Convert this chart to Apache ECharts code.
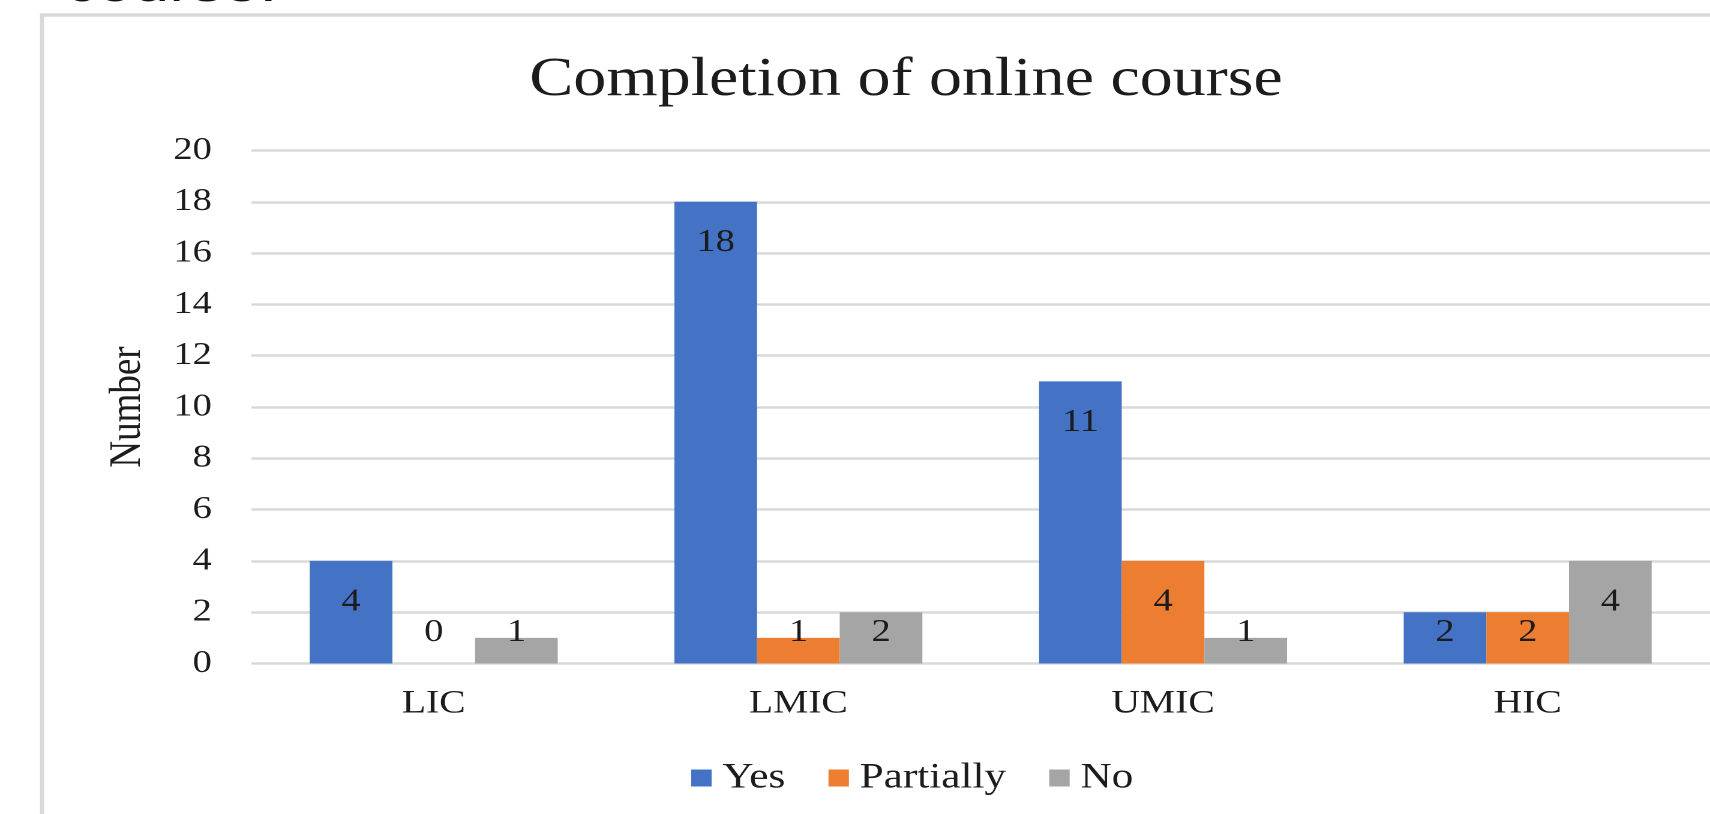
<!DOCTYPE html>
<html>
<head>
<meta charset="utf-8">
<script src="https://cdn.jsdelivr.net/npm/echarts@6/dist/echarts.min.js"></script>
<style>
  html, body { margin: 0; padding: 0; background: #fff; overflow: hidden; }
  /* the source picture is stretched sideways, so the chart is drawn narrow and scaled */
  #chart { width: 1425px; height: 814px; transform: scaleX(1.2); transform-origin: 0 0; }
</style>
</head>
<body>
<div id="chart"></div>
<script>
const categories = ['LIC', 'LMIC', 'UMIC', 'HIC'];
const seriesNames = ['Yes', 'Partially', 'No'];
const yesValues = [4, 18, 11, 2];
const partiallyValues = [0, 1, 4, 2];
const noValues = [1, 2, 1, 4];
const yMin = 0, yMax = 20, yStep = 2;

const serif = '"Liberation Serif", "Times New Roman", serif';
const ink = '#1c1c1c';
const colors = ['#4472C4', '#ED7D31', '#A5A5A5'];

// Excel puts labels inside the bar end, but keeps short bars' labels above the baseline
function barData(values) {
    return values.map(function (v) {
        return {
            value: v,
            label: v <= 2 ? {position: 'insideBottom', distance: 15} : {position: 'insideTop', distance: 25}
        };
    });
}

const chart = echarts.init(document.getElementById('chart'), null, {devicePixelRatio: 2});
const values = [yesValues, partiallyValues, noValues];

chart.setOption({
    animation: false,
    color: colors,
    textStyle: {fontFamily: serif},
    graphic: [
        {type: 'rect', shape: {x: 35, y: 15, width: 3000, height: 3000}, style: {fill: 'none', stroke: '#d9d9d9', lineWidth: 3.4}, silent: true},
        // bottom edge of the caption text that the crop cut off
        {type: 'text', x: 54, y: -14, style: {text: 'course.', font: '54px "Liberation Sans", Arial, sans-serif', fill: '#111', verticalAlign: 'middle'}},
        {type: 'text', x: 755, y: 53, style: {text: 'Completion of online course', font: '55px ' + serif, fill: ink, align: 'center', verticalAlign: 'top'}}
    ],
    legend: {
        data: seriesNames,
        left: 576,
        top: 760,
        padding: 0,
        icon: 'rect',
        itemWidth: 17,
        itemHeight: 17,
        itemGap: 36,
        textStyle: {fontSize: 36, color: ink, fontFamily: serif, padding: [0, 0, 0, 4]}
    },
    grid: {left: 209.5, width: 1226, top: 150.5, bottom: 150.5, containLabel: false},
    xAxis: {
        type: 'category',
        data: categories,
        axisLine: {show: false},
        axisTick: {show: false},
        axisLabel: {fontSize: 33, color: ink, margin: 24}
    },
    yAxis: {
        type: 'value',
        min: yMin,
        max: yMax,
        interval: yStep,
        name: 'Number',
        nameLocation: 'middle',
        nameGap: 84,
        nameTextStyle: {fontSize: 37, color: ink, fontFamily: serif},
        axisLine: {show: false},
        axisTick: {show: false},
        axisLabel: {fontSize: 32, color: ink, margin: 33},
        splitLine: {lineStyle: {color: '#d9d9d9', width: 2.5}}
    },
    series: seriesNames.map(function (name, i) {
        return {
            name: name,
            type: 'bar',
            data: barData(values[i]),
            barGap: '0%',
            barCategoryGap: '32%',
            label: {show: true, fontSize: 32, color: ink, fontFamily: serif}
        };
    })
});
</script>
</body>
</html>
